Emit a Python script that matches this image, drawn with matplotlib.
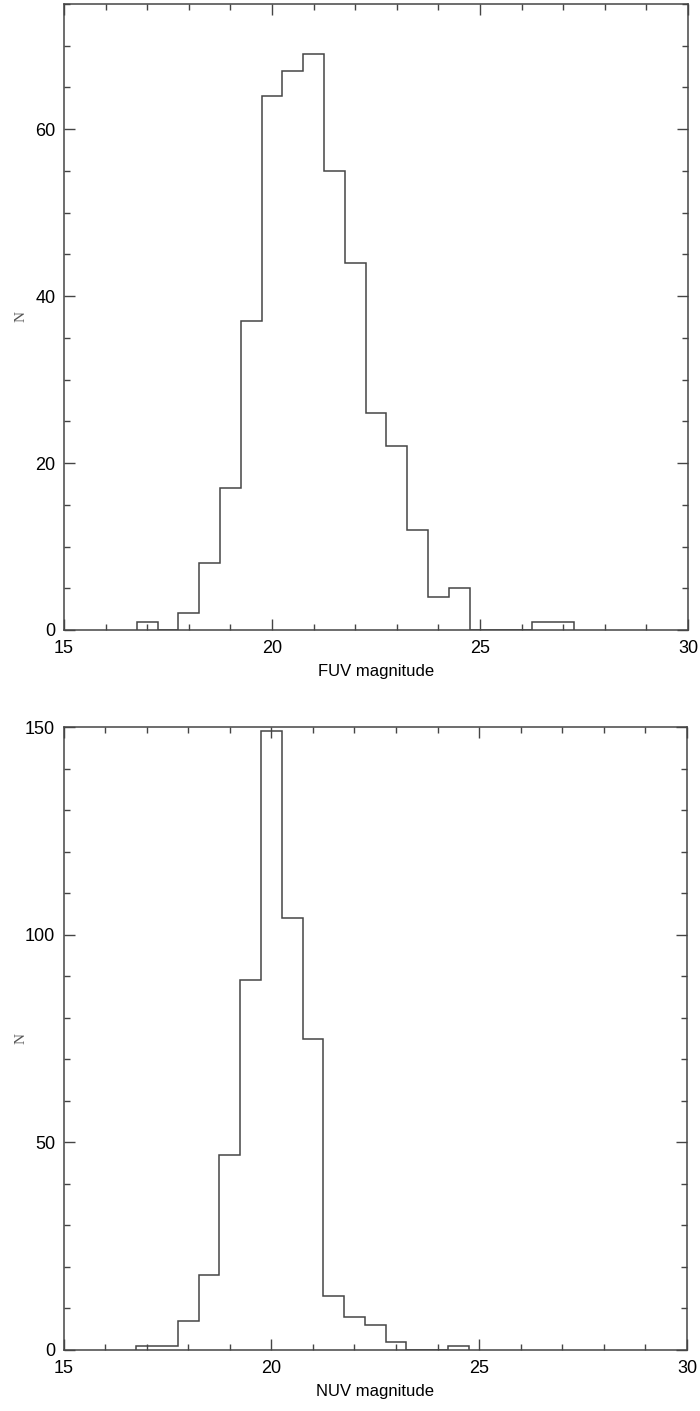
import numpy as np
import matplotlib
matplotlib.use('Agg')
import matplotlib.pyplot as plt
from matplotlib.ticker import MultipleLocator

# bin centres (0.5 mag bins) and counts
fuv_centres = [17.0, 17.5, 18.0, 18.5, 19.0, 19.5, 20.0, 20.5, 21.0, 21.5, 22.0,
               22.5, 23.0, 23.5, 24.0, 24.5, 25.0, 25.5, 26.0, 26.5, 27.0]
fuv_counts = [1, 0, 2, 8, 17, 37, 64, 67, 69, 55, 44,
              26, 22, 12, 4, 5, 0, 0, 0, 1, 1]

nuv_centres = [17.0, 17.5, 18.0, 18.5, 19.0, 19.5, 20.0, 20.5, 21.0, 21.5, 22.0,
               22.5, 23.0, 23.5, 24.0, 24.5]
nuv_counts = [1, 1, 7, 18, 47, 89, 149, 104, 75, 13, 8, 6, 2, 0, 0, 1]

bin_width = 0.5
line_col = '#454545'

plt.rcParams['font.family'] = ['Liberation Sans', 'DejaVu Sans']

fig = plt.figure(figsize=(7.0, 14.11), dpi=100)

def hist_panel(rect, centres, counts, xlabel, ymax, ymajor, yminor):
    ax = fig.add_axes(rect)
    c = np.array(centres)
    edges = np.concatenate((c - bin_width / 2, [c[-1] + bin_width / 2]))
    ax.stairs(counts, edges, color=line_col, lw=1.1)
    ax.set_xlim(15, 30)
    ax.set_ylim(0, ymax)
    ax.xaxis.set_major_locator(MultipleLocator(5))
    ax.xaxis.set_minor_locator(MultipleLocator(1))
    ax.yaxis.set_major_locator(MultipleLocator(ymajor))
    ax.yaxis.set_minor_locator(MultipleLocator(yminor))
    ax.tick_params(which='both', direction='in', top=True, right=True,
                   color=line_col, width=1.0, labelsize=13)
    ax.tick_params(which='major', length=8)
    ax.tick_params(which='minor', length=4.3)
    ax.tick_params(axis='x', pad=7)
    ax.tick_params(axis='y', pad=6)
    for s in ax.spines.values():
        s.set_color(line_col)
        s.set_linewidth(1.1)
    ax.set_xlabel(xlabel, fontsize=12, labelpad=5)
    ax.set_ylabel('N', fontsize=11, family=['Liberation Serif', 'DejaVu Serif'],
                  color='#555555')
    ax.yaxis.set_label_coords(-0.058, 0.5)
    return ax

hist_panel([64 / 700, 1 - 630 / 1411, 624 / 700, 626 / 1411],
           fuv_centres, fuv_counts, 'FUV magnitude', 75, 20, 5)
hist_panel([63.5 / 700, 1 - 1350 / 1411, 623.5 / 700, 623 / 1411],
           nuv_centres, nuv_counts, 'NUV magnitude', 150, 50, 10)

fig.savefig('out.png', dpi=100)
